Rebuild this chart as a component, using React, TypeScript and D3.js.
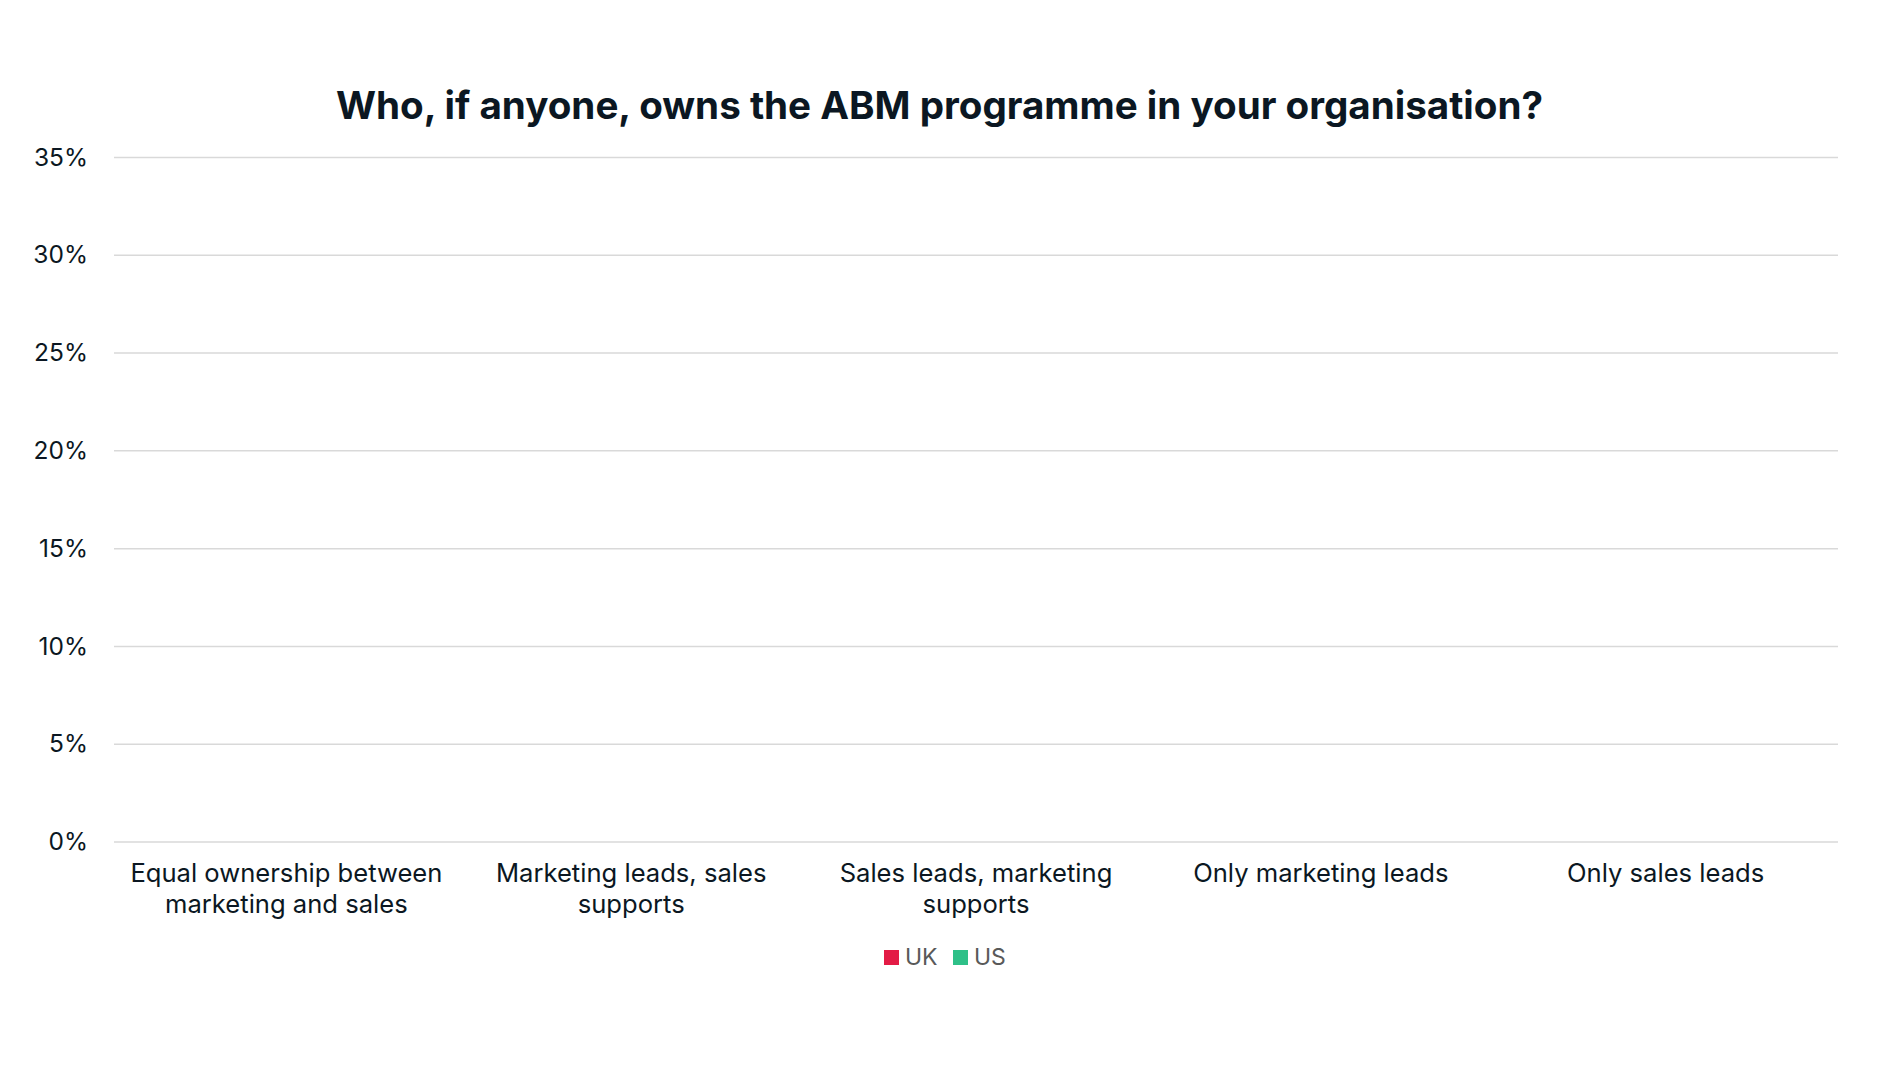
import React, { useRef, useEffect } from 'react';
import * as d3 from 'd3';

const categories = [
  'Equal ownership between marketing and sales',
  'Marketing leads, sales supports',
  'Sales leads, marketing supports',
  'Only marketing leads',
  'Only sales leads',
];
const seriesNames = ['UK', 'US'];
// no bars are visible in the reference, so every value reads as 0
const ukValues = [0, 0, 0, 0, 0];
const usValues = [0, 0, 0, 0, 0];
const yTicks = [0, 0.05, 0.1, 0.15, 0.2, 0.25, 0.3, 0.35];
const colors = ['#e31b45', '#2ec088'];

const W = 1877;
const H = 1080;
const FONT = 'Inter, "Noto Sans", sans-serif';

const App: React.FC = () => {
  const ref = useRef<SVGSVGElement | null>(null);

  useEffect(() => {
    const svg = d3.select(ref.current);
    svg.selectAll('*').remove();

    const margin = { top: 157.5, right: 39, bottom: 238, left: 114 };
    const x0 = d3.scaleBand<string>()
      .domain(categories)
      .range([margin.left, W - margin.right])
      .paddingInner(0.2)
      .paddingOuter(0.1);
    const x1 = d3.scaleBand<string>().domain(seriesNames).range([0, x0.bandwidth()]).padding(0.05);
    const y = d3.scaleLinear().domain([0, 0.35]).range([H - margin.bottom, margin.top]);

    svg.append('rect').attr('width', W).attr('height', H).attr('fill', '#fff');

    svg.append('text')
      .attr('x', 939.5)
      .attr('y', 119)
      .attr('text-anchor', 'middle')
      .attr('font-family', FONT)
      .attr('font-weight', 700)
      .attr('font-size', 38.6)
      .attr('fill', '#0b1722')
      .text('Who, if anyone, owns the ABM programme in your organisation?');

    // grid + y labels
    const yAxis = svg.append('g');
    yAxis.selectAll('line')
      .data(yTicks)
      .join('line')
      .attr('x1', margin.left)
      .attr('x2', W - margin.right)
      .attr('y1', (d) => y(d))
      .attr('y2', (d) => y(d))
      .attr('stroke', '#d9d9d9')
      .attr('stroke-width', 1.5);
    yAxis.selectAll('text')
      .data(yTicks)
      .join('text')
      .attr('x', 88)
      .attr('y', (d) => y(d))
      .attr('dy', '0.33em')
      .attr('text-anchor', 'end')
      .attr('font-family', FONT)
      .attr('font-size', 24.5)
      .attr('fill', '#0b1722')
      .text((d) => d3.format('.0%')(d));

    // bars
    const values = [ukValues, usValues];
    const g = svg.append('g');
    categories.forEach((c, i) => {
      seriesNames.forEach((s, j) => {
        const v = values[j][i];
        g.append('rect')
          .attr('x', x0(c)! + x1(s)!)
          .attr('y', y(v))
          .attr('width', x1.bandwidth())
          .attr('height', y(0) - y(v))
          .attr('fill', colors[j]);
      });
    });

    // x labels, wrapped
    const xl = svg.append('g');
    const baseY = 882;
    categories.forEach((c) => {
      const cx = x0(c)! + x0.bandwidth() / 2;
      const t = xl.append('text')
        .attr('x', cx)
        .attr('y', baseY)
        .attr('text-anchor', 'middle')
        .attr('font-family', FONT)
        .attr('font-size', 25.6)
        .attr('fill', '#0b1722');
      const words = c.split(' ');
      let line: string[] = [];
      let lineNo = 0;
      let tspan = t.append('tspan').attr('x', cx).attr('y', baseY);
      words.forEach((w) => {
        line.push(w);
        tspan.text(line.join(' '));
        if ((tspan.node() as SVGTSpanElement).getComputedTextLength() > 330 && line.length > 1) {
          line.pop();
          tspan.text(line.join(' '));
          line = [w];
          lineNo += 1;
          tspan = t.append('tspan').attr('x', cx).attr('y', baseY + lineNo * 31).text(w);
        }
      });
    });

    // legend
    const legend = svg.append('g');
    const lx = [884, 953];
    seriesNames.forEach((s, j) => {
      legend.append('rect')
        .attr('x', lx[j])
        .attr('y', 950)
        .attr('width', 15)
        .attr('height', 15)
        .attr('fill', colors[j]);
      legend.append('text')
        .attr('x', lx[j] + 21)
        .attr('y', 964.5)
        .attr('font-family', FONT)
        .attr('font-size', 23)
        .attr('fill', '#595959')
        .text(s);
    });
  }, []);

  return (
    <div style={{ position: 'absolute', left: 0, top: 0 }}>
      <svg ref={ref} width={W} height={H} style={{ display: 'block' }} />
    </div>
  );
};

export default App;
